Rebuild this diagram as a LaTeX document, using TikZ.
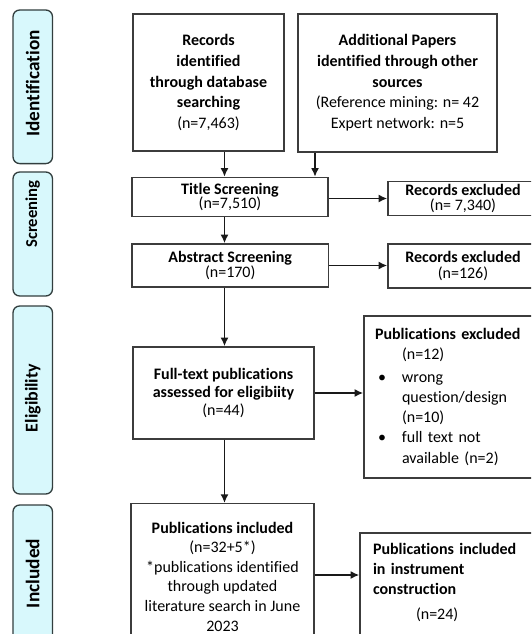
\documentclass[tikz,border=0pt]{standalone}
\usepackage{fontspec}
\setmainfont{Carlito}[Ligatures={NoCommon}]
\usetikzlibrary{arrows.meta}
\definecolor{boxgray}{RGB}{60,60,60}
\definecolor{sidefill}{RGB}{216,248,252}
\definecolor{sideline}{RGB}{50,62,62}
\newcommand\indA{\hspace*{20.25pt}}
\newcommand\bulA{\makebox[20.25pt][l]{\hspace{2.25pt}\textbullet}}
\begin{document}
\begin{tikzpicture}[x=0.75pt,y=-0.75pt,
  box/.style={draw=boxgray, line width=1pt, rectangle, inner sep=0pt, align=center,
    font=\fontsize{12}{15.5}\selectfont},
  lbox/.style={box, align=left, font=\fontsize{12}{15}\selectfont},
  side/.style={draw=sideline, fill=sidefill, rounded corners=5pt, line width=1pt,
    minimum width=29.6pt, inner sep=0pt},
  arr/.style={line width=1.3pt, draw=black!90, -{Latex[length=6.5pt,width=6pt]}}]
\useasboundingbox (0,0) rectangle (531,634);
\clip (0,0) rectangle (531,634);

% stage labels
\node[side, minimum height=115.2pt] (sIdent) at (32.75,86.8)
  {\rotatebox{90}{\fontsize{14.4}{16}\selectfont\bfseries\hspace*{5pt}Identification}};
\node[side, minimum height=93pt] (sScreen) at (32.75,234)
  {\rotatebox{90}{\fontsize{12.5}{14}\selectfont\bfseries\hspace*{30pt}Screening}};
\node[side, minimum height=141pt] (sElig) at (32.75,400)
  {\rotatebox{90}{\fontsize{13.5}{15}\selectfont\bfseries\hspace*{3pt}Eligibility}};
\node[side, minimum height=102.75pt] (sIncl) at (32.75,573.5)
  {\rotatebox{90}{\fontsize{14.5}{16}\selectfont\bfseries Included}};

% boxes
\node[box, minimum width=113.25pt, minimum height=102.75pt] (recs) at (208.5,82.5)
  {\textbf{Records}\\\textbf{identified}\\\textbf{through database}\\\textbf{searching}\\(n=7,463)};
\node[box, minimum width=149.25pt, minimum height=103.5pt] (addl) at (397.5,83)
  {\textbf{Additional Papers}\\\textbf{identified through other}\\\textbf{sources}\\(Reference mining: n= 42\\Expert network: n=5};
\node[box, minimum width=147pt, minimum height=29.25pt] (title) at (230,197)
  {\textbf{Title Screening}\\[-5pt](n=7,510)};
\node[box, minimum width=112.5pt, minimum height=25.5pt] (excl1) at (463,198.5)
  {\textbf{Records excluded}\\[-4pt](n= 7,340)};
\node[box, minimum width=147.4pt, minimum height=32.25pt] (abstract) at (230.25,265.5)
  {\textbf{Abstract Screening}\\[-4.5pt](n=170)};
\node[box, minimum width=112.5pt, minimum height=33pt] (excl2) at (463,266)
  {\textbf{Records excluded}\\[-2.8pt](n=126)};
\node[box, minimum width=135.75pt, minimum height=69pt] (full) at (223.5,393)
  {\textbf{Full-text publications}\\[-2pt]\textbf{assessed for eligibiity}\\[-2pt](n=44)};
\node[lbox, text width=126pt, minimum width=142.5pt, minimum height=121.5pt] (pubexcl) at (459,397)
  {\textbf{Publications excluded}\\[-0.5pt]
   \indA(n=12)\\[2.5pt]
   \bulA wrong\\
   \indA question/design\\
   \indA(n=10)\\
   \bulA full text not\\[0.5pt]
   \indA available (n=2)};
\node[box, minimum width=137.25pt, minimum height=109.2pt] (pubinc) at (222.5,576.5)
  {\textbf{Publications included}\\[-0.8pt](n=32+5*)\\[-0.8pt]*publications identified\\[-0.8pt]through updated\\[-0.8pt]literature search in June\\[-0.8pt]2023};
\node[lbox, text width=120pt, minimum width=139.5pt, minimum height=95.25pt] (instr) at (453,596.5)
  {\textbf{Publications included}\\
   \textbf{in instrument}\\
   \textbf{construction}\\[3.75pt]
   \hspace*{32.25pt}(n=24)\\[8pt]\mbox{}};

% connectors
\coordinate (colA) at (224.5,0);
\coordinate (colB) at (315,0);
\coordinate (rowD) at (0,575);
\draw[arr] (recs.south -| colA) -- (title.north -| colA);
\draw[arr] (addl.south -| colB) -- (title.north -| colB);
\draw[arr] (title.east |- excl1.west) -- (excl1.west);
\draw[arr] (title.south -| colA) -- (abstract.north -| colA);
\draw[arr] (abstract.east) -- (abstract.east -| excl2.west);
\draw[arr] (abstract.south -| colA) -- (full.north -| colA);
\draw[arr] (full.east) -- (full.east -| pubexcl.west);
\draw[arr] (full.south -| colA) -- (pubinc.north -| colA);
\draw[arr] (pubinc.east |- rowD) -- (instr.west |- rowD);
\end{tikzpicture}
\end{document}
